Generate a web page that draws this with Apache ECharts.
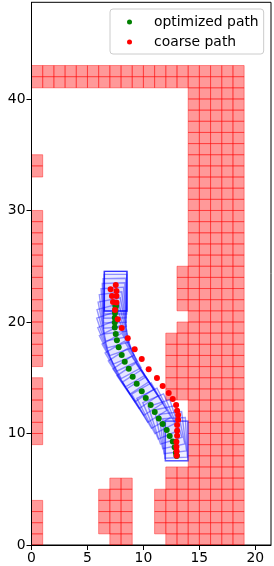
<!DOCTYPE html>
<html><head><meta charset="utf-8">
<style>html,body{margin:0;padding:0;background:#fff}#c{width:274px;height:566px}</style>
<script src="https://cdn.jsdelivr.net/npm/echarts@6/dist/echarts.min.js"></script>
</head><body><div id="c"></div>
<script>
const xTicks=[0,5,10,15,20];
const yTicks=[0,10,20,30,40];
// obstacle columns: x index, then inclusive y-ranges of unit cells
const obstacleColumns=[
 [0,[[0,3],[9,14],[16,29],[33,34],[41,42]]],
 [1,[[41,42]]],[2,[[41,42]]],[3,[[41,42]]],[4,[[41,42]]],[5,[[41,42]]],
 [6,[[1,4],[41,42]]],
 [7,[[0,5],[41,42]]],
 [8,[[0,5],[41,42]]],
 [9,[[41,42]]],[10,[[41,42]]],
 [11,[[1,4],[41,42]]],
 [12,[[0,6],[13,18],[41,42]]],
 [13,[[0,6],[13,19],[21,24],[41,42]]],
 [14,[[0,42]]],[15,[[0,42]]],[16,[[0,42]]],[17,[[0,42]]],[18,[[0,42]]]
];
const optX=[12.97,12.97,12.90,12.79,12.62,12.35,12.08,11.72,11.37,11.01,10.65,10.21,9.85,9.40,9.04,8.69,8.33,8.06,7.79,7.63,7.53,7.44,7.44,7.44,7.46,7.50,7.52,7.52,7.52];
const optY=[8.01,8.01,8.28,8.76,9.29,9.78,10.31,10.85,11.35,11.92,12.55,13.18,13.79,14.46,15.09,15.80,16.43,17.03,17.74,18.37,18.93,19.50,19.96,20.39,20.81,21.17,21.44,21.44,21.44];
const optHeading=[90,90,93,97,102,108,113,117,120,122,123,124,124,123,121,119,116,113,109,105,101,97,94,92,91,90,90,90,90];
const coarseX=[12.97,12.97,12.95,12.95,13.01,13.01,13.01,13.10,13.10,13.01,12.92,12.62,12.26,11.72,11.21,10.47,9.85,9.22,8.60,8.06,7.70,7.46,7.59,7.28,7.59,7.19,7.59,7.07,7.53];
const coarseY=[8.01,8.40,8.82,9.27,9.80,10.25,10.76,11.24,11.66,12.04,12.55,13.09,13.63,14.25,14.97,15.77,16.67,17.56,18.55,19.45,20.25,21.08,21.74,21.80,22.34,22.34,22.78,22.94,23.32];

const cells=[];
obstacleColumns.forEach(([x,ranges])=>ranges.forEach(([a,b])=>{for(let y=a;y<=b;y++)cells.push([x,y]);}));
const FRONT=3.1,REAR=0.45,HALF=1.01;
const font='"DejaVu Sans"';
const chart=echarts.init(document.getElementById('c'),null,{renderer:'canvas'});
chart.setOption({
 animation:false,
 backgroundColor:'#fff',
 grid:{left:31.5,right:3,top:2.3,bottom:21,show:true,borderColor:'#000',borderWidth:1,backgroundColor:'transparent',containLabel:false},
 xAxis:{type:'value',min:0,max:21.4,z:5,splitLine:{show:false},
  axisLine:{show:true,onZero:false,lineStyle:{color:'#000',width:1}},
  axisTick:{length:5,lineStyle:{color:'#000',width:1},customValues:xTicks},
  axisLabel:{color:'#000',fontFamily:font,fontSize:13.9,margin:6,customValues:xTicks}},
 yAxis:{type:'value',min:0,max:48.67,z:5,splitLine:{show:false},
  axisLine:{show:true,onZero:false,lineStyle:{color:'#000',width:1}},
  axisTick:{length:5,lineStyle:{color:'#000',width:1},customValues:yTicks},
  axisLabel:{color:'#000',fontFamily:font,fontSize:13.9,margin:6,customValues:yTicks}},
 legend:{left:110,top:9,orient:'vertical',icon:'circle',itemWidth:5,itemHeight:5,itemGap:6,
  padding:[6,5,5,17],borderColor:'#ccc',borderWidth:1,borderRadius:3,
  backgroundColor:'rgba(255,255,255,0.8)',
  textStyle:{color:'#000',fontFamily:font,fontSize:13.9,padding:[0,0,0,17]},
  data:['optimized path','coarse path']},
 series:[
  {type:'custom',name:'obstacles',coordinateSystem:'cartesian2d',z:1,data:cells,silent:true,
   renderItem:(p,api)=>{
    const x=api.value(0),y=api.value(1);
    const a=api.coord([x,y]),b=api.coord([x+1,y+1]);
    return {type:'rect',shape:{x:a[0],y:b[1],width:b[0]-a[0],height:a[1]-b[1]},
     style:{fill:'rgba(255,0,0,0.4)',stroke:'rgba(255,0,0,0.4)',lineWidth:1}};
   }},
  {type:'custom',name:'footprints',coordinateSystem:'cartesian2d',z:2,silent:true,
   data:optX.map((x,i)=>[x,optY[i],optHeading[i]]),
   renderItem:(p,api)=>{
    const x=api.value(0),y=api.value(1),t=api.value(2)*Math.PI/180;
    const c=Math.cos(t),s=Math.sin(t);
    const pts=[[FRONT,HALF],[FRONT,-HALF],[-REAR,-HALF],[-REAR,HALF]].map(([f,l])=>api.coord([x+f*c-l*s,y+f*s+l*c]));
    return {type:'polygon',shape:{points:pts},style:{fill:'rgba(0,0,255,0.02)',stroke:'rgba(0,0,255,0.4)',lineWidth:1.4}};
   }},
  {type:'scatter',name:'optimized path',z:3,symbol:'circle',symbolSize:6,itemStyle:{color:'#008000',opacity:1},
   data:optX.map((x,i)=>[x,optY[i]])},
  {type:'scatter',name:'coarse path',z:4,symbol:'circle',symbolSize:6,itemStyle:{color:'#ff0000',opacity:1},
   data:coarseX.map((x,i)=>[x,coarseY[i]])}
 ]
});
</script></body></html>
